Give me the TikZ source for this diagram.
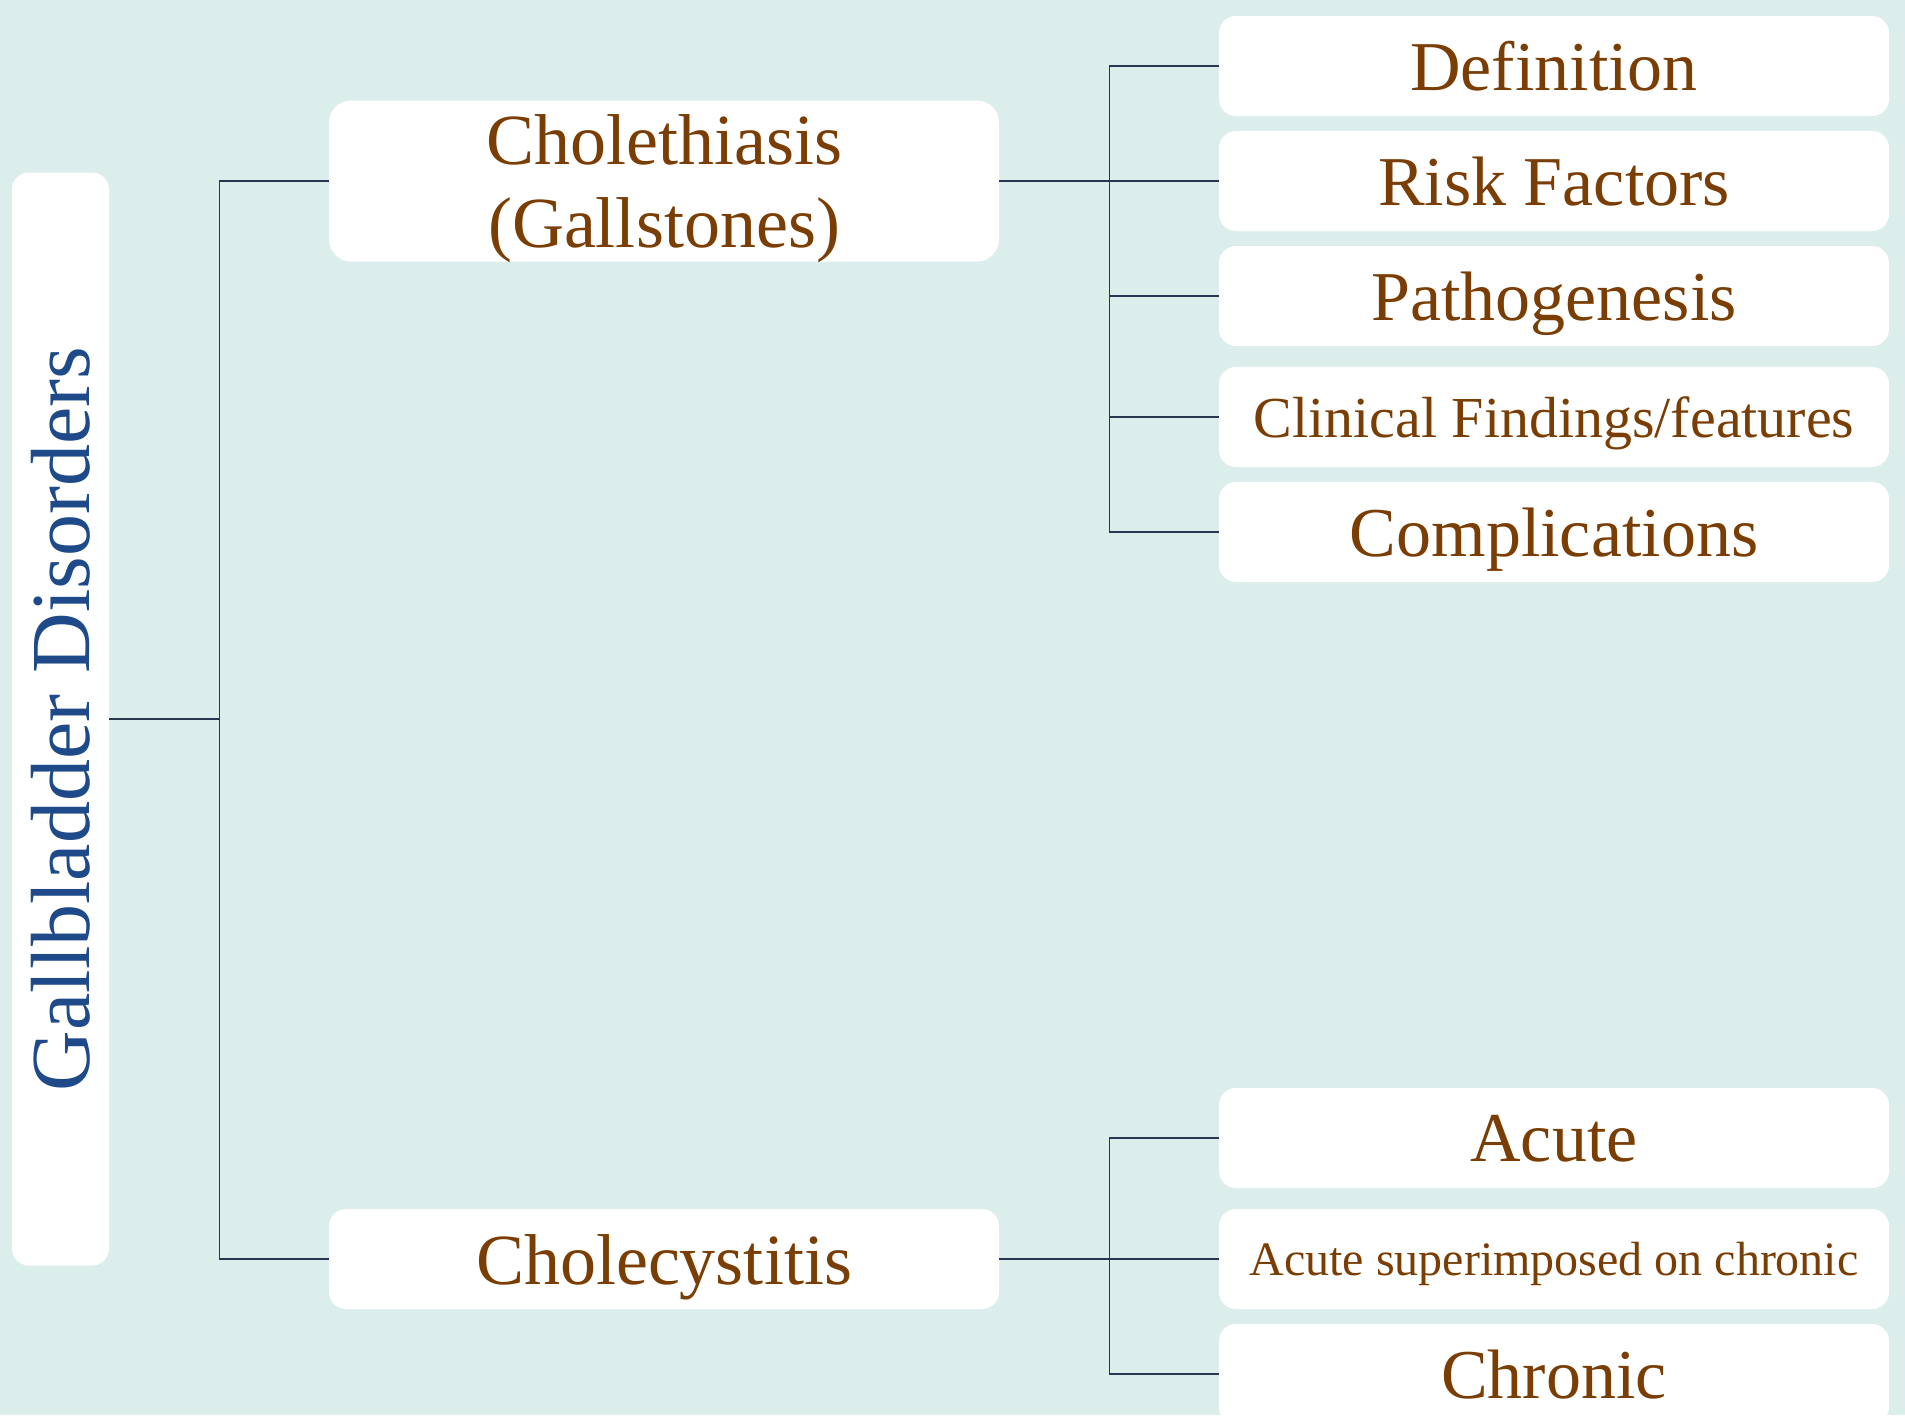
\documentclass[tikz,border=0pt]{standalone}
\usepackage{fontspec}
\setmainfont{Liberation Serif}
\usetikzlibrary{positioning}
\definecolor{bgteal}{HTML}{DCEEEB}
\definecolor{txtbrown}{HTML}{7A3E05}
\definecolor{ttlblue}{HTML}{1F4A8A}
\definecolor{linenavy}{HTML}{2A3550}

\begin{document}
\begin{tikzpicture}[x=0.5pt, y=-0.5pt,
  box/.style={fill=white, rounded corners=8.5pt, align=center, inner sep=0pt, text depth=0pt,
    minimum width=335pt, minimum height=50pt, text=txtbrown, font=\fontsize{35}{41}\selectfont},
  small/.style={font=\fontsize{29}{34}\selectfont},
  tiny/.style={font=\fontsize{24}{29}\selectfont},
  link/.style={draw=linenavy, line width=0.9pt}]
\clip (0,0) rectangle (1905,1415);
\fill[bgteal] (0,0) rectangle (1905,1415);
\node[box, rotate=90, minimum width=546.5pt, minimum height=48.5pt, text=ttlblue,
  font=\fontsize{42}{48}\selectfont] (root) at (60.5,719) {Gallbladder Disorders};
\node[box, minimum height=80.5pt, rounded corners=11pt, font=\fontsize{36}{41.5}\selectfont] (stones) at (664,181) {Cholethiasis\\(Gallstones)};
\node[box, font=\fontsize{36}{41.5}\selectfont] (cystitis) at (664,1259) {Cholecystitis};
\node[box] (defn) at (1554,66) {Definition};
\node[box] (risk) at (1554,181) {Risk Factors};
\node[box] (patho) at (1554,296) {Pathogenesis};
\node[box, small] (clin) at (1554,417) {Clinical Findings/features};
\node[box] (compl) at (1554,532) {Complications};
\node[box] (acute) at (1554,1138) {Acute};
\node[box, tiny] (acchr) at (1554,1259) {Acute superimposed on chronic};
\node[box] (chron) at (1554,1374) {Chronic};
\foreach \n in {stones,cystitis}
  \draw[link] (root.south) -- ++(110,0) |- (\n.west);
\foreach \n in {defn,risk,patho,clin,compl}
  \draw[link] (stones.east) -- ++(110,0) |- (\n.west);
\foreach \n in {acute,acchr,chron}
  \draw[link] (cystitis.east) -- ++(110,0) |- (\n.west);
\end{tikzpicture}
\end{document}
